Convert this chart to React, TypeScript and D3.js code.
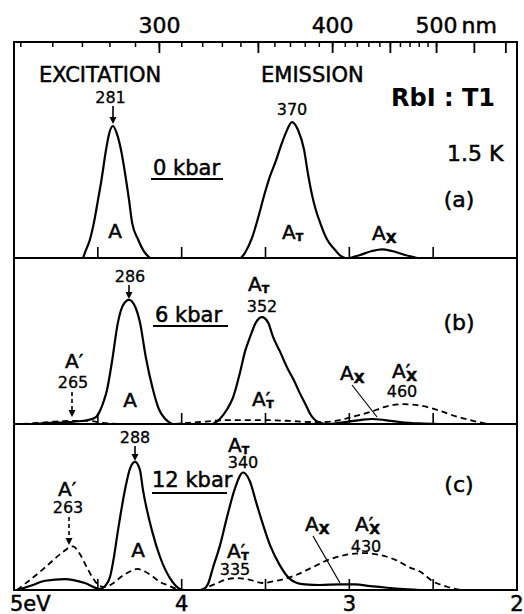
import React from 'react';
import * as d3 from 'd3';

// ---------- axis data ----------
const energyTicks = [5, 4, 3, 2];
const energyTickLabels = ['5eV', '4', '3', '2'];
const panelTicks = [4.5, 4, 3.5, 3, 2.5];
const nmMinorTicks = [250, 260, 270, 280, 290, 300, 310, 320, 330, 340, 350, 360, 370, 380, 390, 400, 410, 420, 430, 440, 450, 460, 470, 480, 490, 500];
const nmMajorTicks = [300, 350, 400, 450, 500, 550, 600];
const nmTickLabels = [300, 400, 500];
const HC = 1239.84;

const panelNames = ['(a)', '(b)', '(c)'];
const pressures = ['0 kbar', '6 kbar', '12 kbar'];

// ---------- spectra: [energy eV, intensity] ----------
// panel (a) 0 kbar
const aExcA: [number, number][] = [[4.588, 0], [4.577, 4], [4.547, 14], [4.523, 27], [4.499, 44], [4.481, 57], [4.451, 82], [4.433, 94], [4.41, 100], [4.386, 94], [4.362, 82], [4.329, 57], [4.314, 44], [4.296, 27], [4.26, 14], [4.225, 5], [4.189, 0]];
const aEmAT: [number, number][] = [[3.646, 0], [3.622, 4], [3.581, 15], [3.545, 30], [3.509, 47], [3.473, 62], [3.437, 74], [3.408, 85], [3.378, 95], [3.342, 103], [3.306, 97], [3.27, 82], [3.247, 64], [3.223, 48], [3.199, 36], [3.175, 27], [3.133, 14], [3.091, 7], [3.056, 2], [3.026, 0]];
const aEmAX: [number, number][] = [[2.996, 0], [2.936, 2.3], [2.865, 5.3], [2.805, 6.6], [2.746, 5.3], [2.668, 2.3], [2.596, 0]];

// panel (b) 6 kbar
const bExcA: [number, number][] = [[4.875, 0], [4.785, 0.8], [4.666, 1.5], [4.559, 3], [4.511, 5.3], [4.487, 10], [4.463, 18], [4.445, 26], [4.416, 47], [4.38, 77], [4.35, 90], [4.314, 94], [4.278, 89], [4.249, 77], [4.213, 50], [4.171, 26], [4.135, 11], [4.099, 4], [4.058, 0]];
const bExcAp: [number, number][] = [[4.95, 0], [4.83, 1.1], [4.68, 2.3], [4.55, 2.3], [4.47, 0.8], [4.35, 0]];
const bEmAT: [number, number][] = [[3.813, 0], [3.771, 4], [3.73, 11], [3.694, 20], [3.652, 39], [3.622, 55], [3.592, 66], [3.557, 77], [3.521, 81], [3.485, 77], [3.455, 66], [3.414, 55], [3.372, 43], [3.33, 33], [3.294, 23], [3.258, 14], [3.235, 8], [3.187, 1.5], [3.145, 0]];
const bEmAX: [number, number][] = [[3.115, 0], [3.026, 1.5], [2.936, 3], [2.865, 3.8], [2.787, 3], [2.698, 1.5], [2.579, 0.4], [2.459, 0]];
const bEmAp: [number, number][] = [[4.04, 0], [3.891, 1.5], [3.712, 3], [3.521, 3], [3.354, 2.3], [3.235, 1.5], [3.145, 1.5], [3.056, 3], [2.966, 6], [2.877, 9], [2.787, 13], [2.68, 15], [2.579, 14], [2.459, 10], [2.37, 6], [2.28, 3], [2.179, 0]];

// panel (c) 12 kbar
const cExcA: [number, number][] = [[4.982, 0], [4.905, 3], [4.815, 7], [4.696, 8.3], [4.577, 5.3], [4.487, 0.8], [4.457, 3], [4.427, 10], [4.404, 25], [4.38, 45], [4.338, 76], [4.308, 92], [4.278, 97], [4.249, 91], [4.231, 76], [4.177, 45], [4.129, 25], [4.07, 9], [4.034, 3], [4.004, 0]];
const cExcAp: [number, number][] = [[4.982, 0], [4.905, 7.6], [4.815, 17], [4.726, 27], [4.648, 33], [4.606, 27], [4.565, 17], [4.529, 9], [4.487, 3], [4.451, 2.3], [4.416, 4.5], [4.35, 11], [4.308, 14], [4.266, 16], [4.219, 14], [4.171, 10], [4.129, 6], [4.087, 3.8], [4.028, 0.8], [3.98, 0]];
const cEmAT: [number, number][] = [[3.873, 0], [3.843, 4.5], [3.813, 17], [3.771, 34], [3.73, 55], [3.682, 77], [3.634, 89], [3.592, 82], [3.557, 67], [3.521, 52], [3.473, 34], [3.42, 20], [3.36, 9], [3.312, 5.3], [3.264, 4.2], [3.175, 3.8], [3.056, 4.2], [2.966, 4.2], [2.877, 3], [2.787, 1.9], [2.698, 0.8], [2.579, 0]];
const cEmAp: [number, number][] = [[3.891, 0], [3.801, 4.5], [3.724, 8.3], [3.67, 9], [3.592, 7.6], [3.521, 5.3], [3.443, 6.8], [3.324, 11], [3.223, 17], [3.121, 23], [3.026, 26.5], [2.907, 28], [2.817, 26.5], [2.728, 23], [2.638, 17], [2.579, 14], [2.495, 6], [2.429, 3], [2.37, 0.8], [2.328, 0]];

const solidCurves = [[aExcA, aEmAT, aEmAX], [bExcA, bEmAT, bEmAX], [cExcA, cEmAT]];
const dashedCurves = [[], [bExcAp, bEmAp], [cExcAp, cEmAp]];

// ---------- layout ----------
const W = 524, H = 614;
const L = 14, R = 517, TOP = 42;
const baselines = [258, 424, 590];
const x = d3.scaleLinear().domain([5, 2]).range([L, R]);
const yScales = baselines.map((b) => d3.scaleLinear().domain([0, 100]).range([b, b - 132]));

const FONT = "'DejaVu Sans', sans-serif";

const Arrow = ({ x: ax, y1, y2, dashed = false }: { x: number; y1: number; y2: number; dashed?: boolean }) => (
  <g>
    <line x1={ax} x2={ax} y1={y1} y2={y2 - 6} stroke="#000" strokeWidth={1.6} strokeDasharray={dashed ? '4,3' : undefined} />
    <path d={`M${ax - 3.5},${y2 - 7} L${ax + 3.5},${y2 - 7} L${ax},${y2} Z`} fill="#000" />
  </g>
);

const Sym = ({ x: sx, y, prime = false, sub, subSize = 11, subDy = 2, subBold = true }: { x: number; y: number; prime?: boolean; sub?: string; subSize?: number; subDy?: number; subBold?: boolean }) => (
  <text x={sx} y={y} fontSize={20} fontFamily={FONT}>
    A{prime ? '′' : ''}
    {sub ? (
      <tspan fontSize={subSize} dy={subDy} dx={prime ? -4 : 0} fontWeight={subBold ? 'bold' : 'normal'}>
        {sub}
      </tspan>
    ) : null}
  </text>
);

export default function App() {
  const line = (ys: d3.ScaleLinear<number, number>) =>
    d3
      .line<[number, number]>()
      .x((d) => x(d[0]))
      .y((d) => ys(d[1]))
      .curve(d3.curveMonotoneX);

  return (
    <svg width={W} height={H} style={{ position: 'absolute', left: 0, top: 0, background: '#fff' }} fontFamily={FONT}>
      <rect x={0} y={0} width={W} height={H} fill="#fff" />
      {/* frame */}
      <rect x={L} y={TOP} width={R - L} height={baselines[2] - TOP} fill="none" stroke="#000" strokeWidth={2} />
      {baselines.slice(0, 2).map((b) => (
        <line key={b} x1={L} x2={R} y1={b} y2={b} stroke="#000" strokeWidth={2} />
      ))}
      {/* top wavelength ticks */}
      {nmMinorTicks.map((n) => (
        <line key={'m' + n} x1={x(HC / n)} x2={x(HC / n)} y1={TOP} y2={TOP + 5} stroke="#000" strokeWidth={1.5} />
      ))}
      {nmMajorTicks.map((n) => (
        <line key={'M' + n} x1={x(HC / n)} x2={x(HC / n)} y1={TOP} y2={TOP + 11} stroke="#000" strokeWidth={1.8} />
      ))}
      <g stroke="#000" strokeWidth={0.5}>
        {nmTickLabels.map((n) => (
          <text key={'l' + n} x={x(HC / n)} y={33} fontSize={22} textAnchor="middle">
            {n}
          </text>
        ))}
        <text x={x(HC / 500) + 25} y={33} fontSize={22}>
          nm
        </text>
      </g>
      {/* panel bottom ticks */}
      {baselines.map((b) =>
        panelTicks.map((t) => (
          <line key={b + '-' + t} x1={x(t)} x2={x(t)} y1={b} y2={b - 11} stroke="#000" strokeWidth={1.6} />
        ))
      )}
      {/* bottom labels */}
      <g stroke="#000" strokeWidth={0.5}>
        {energyTicks.map((t, i) => (
          <text key={'e' + t} x={i === 0 ? x(t) - 4 : x(t)} y={611} fontSize={21} textAnchor={i === 0 ? 'start' : 'middle'}>
            {energyTickLabels[i]}
          </text>
        ))}
      </g>
      {/* curves */}
      {solidCurves.map((cs, p) =>
        cs.map((c, j) => <path key={'s' + p + j} d={line(yScales[p])(c) || ''} fill="none" stroke="#000" strokeWidth={2.2} />)
      )}
      {dashedCurves.map((cs, p) =>
        cs.map((c, j) => (
          <path key={'d' + p + j} d={line(yScales[p])(c) || ''} fill="none" stroke="#000" strokeWidth={1.8} strokeDasharray="6,4" />
        ))
      )}

      <g stroke="#000" strokeWidth={0.5}>
        {/* header texts */}
        <text x={39} y={82} fontSize={21}>EXCITATION</text>
        <text x={261} y={82} fontSize={21}>EMISSION</text>
        <text x={447} y={161} fontSize={22}>1.5 K</text>

        {/* panel names */}
        <text x={459} y={207} fontSize={22} textAnchor="middle">{panelNames[0]}</text>
        <text x={459} y={330} fontSize={22} textAnchor="middle">{panelNames[1]}</text>
        <text x={459} y={492} fontSize={22} textAnchor="middle">{panelNames[2]}</text>

        {/* pressures */}
        <text x={153} y={175} fontSize={21}>{pressures[0]}</text>
        <text x={155} y={322} fontSize={21}>{pressures[1]}</text>
        <text x={152} y={487} fontSize={21}>{pressures[2]}</text>

        {/* peak labels */}
        <text x={115} y={238} fontSize={20} textAnchor="middle">A</text>
        <Sym x={282} y={239} sub="T" />
        <Sym x={372} y={240} sub="X" subSize={14} subDy={3} />
        <Sym x={65} y={368} prime />
        <text x={130} y={407} fontSize={20} textAnchor="middle">A</text>
        <Sym x={248} y={291} sub="T" />
        <Sym x={252} y={406} prime sub="T" />
        <Sym x={340} y={380} sub="X" subSize={14} subDy={3} />
        <Sym x={392} y={378} prime sub="X" subSize={14} subDy={3} />
        <Sym x={58} y={496} prime />
        <text x={138} y={557} fontSize={20} textAnchor="middle">A</text>
        <Sym x={228} y={452} sub="T" />
        <Sym x={227} y={558} prime sub="T" />
        <Sym x={305} y={531} sub="X" subSize={14} subDy={3} />
        <Sym x={355} y={531} prime sub="X" subSize={14} subDy={3} />
      </g>
      <text x={391} y={106} fontSize={24} fontWeight="bold">RbI : T1</text>

      <line x1={151} x2={223} y1={179} y2={179} stroke="#000" strokeWidth={2} />
      <line x1={153} x2={228} y1={326} y2={326} stroke="#000" strokeWidth={2} />
      <line x1={152} x2={227} y1={493} y2={493} stroke="#000" strokeWidth={2} />

      {/* wavelength annotations and arrows */}
      <g stroke="#000" strokeWidth={0.3}>
        <text x={110.5} y={103} fontSize={16} textAnchor="middle">281</text>
        <text x={292} y={115} fontSize={16} textAnchor="middle">370</text>
        <text x={130} y={282} fontSize={16} textAnchor="middle">286</text>
        <text x={73} y={388} fontSize={16} textAnchor="middle">265</text>
        <text x={262} y={312} fontSize={16} textAnchor="middle">352</text>
        <text x={402} y={397} fontSize={16} textAnchor="middle">460</text>
        <text x={135} y={443} fontSize={16} textAnchor="middle">288</text>
        <text x={68} y={513} fontSize={16} textAnchor="middle">263</text>
        <text x={243} y={468} fontSize={16} textAnchor="middle">340</text>
        <text x={235} y={575} fontSize={16} textAnchor="middle">335</text>
        <text x={366} y={552} fontSize={16} textAnchor="middle">430</text>
      </g>
      <Arrow x={113} y1={106} y2={124} />
      <Arrow x={129} y1={285} y2={299} />
      <Arrow x={72} y1={392} y2={417} dashed />
      <Arrow x={135} y1={446} y2={461} />
      <Arrow x={69} y1={517} y2={545} dashed />
      <line x1={352} y1={385} x2={377} y2={417} stroke="#000" strokeWidth={1.2} />
      <line x1={313} y1={536} x2={340} y2={583} stroke="#000" strokeWidth={1.2} />
    </svg>
  );
}
